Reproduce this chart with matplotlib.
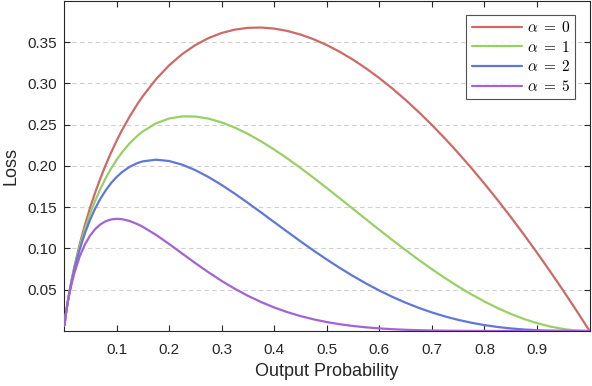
import matplotlib
matplotlib.use("Agg")
import matplotlib.pyplot as plt

p = [0.001, 0.003, 0.005, 0.0075, 0.01, 0.015, 0.02, 0.03, 0.04, 0.05, 0.06, 0.07, 0.08,
     0.09, 0.1, 0.11, 0.125, 0.14, 0.15, 0.175, 0.2, 0.225, 0.25, 0.275, 0.3, 0.325, 0.35,
     0.375, 0.4, 0.425, 0.45, 0.475, 0.5, 0.525, 0.55, 0.575, 0.6, 0.625, 0.65, 0.675, 0.7,
     0.725, 0.75, 0.775, 0.8, 0.825, 0.85, 0.875, 0.9, 0.925, 0.95, 0.965, 0.98, 0.99, 1.0]
loss_a0 = [0.006908, 0.017427, 0.026492, 0.036696, 0.046052, 0.062996, 0.078240, 0.105197,
           0.128755, 0.149787, 0.168805, 0.186148, 0.202058, 0.216715, 0.230259, 0.242800,
           0.259930, 0.275256, 0.284568, 0.305020, 0.321888, 0.335622, 0.346574, 0.355021,
           0.361192, 0.365277, 0.367438, 0.367811, 0.366516, 0.363658, 0.359329, 0.353609,
           0.346574, 0.338287, 0.328810, 0.318196, 0.306495, 0.293752, 0.280009, 0.265304,
           0.249672, 0.233148, 0.215762, 0.197541, 0.178515, 0.158707, 0.138141, 0.116840,
           0.094825, 0.072115, 0.048728, 0.034380, 0.019799, 0.009950, 0.0]
loss_a1 = [0.006901, 0.017375, 0.026360, 0.036421, 0.045591, 0.062051, 0.076675, 0.102041,
           0.123605, 0.142297, 0.158676, 0.173118, 0.185894, 0.197211, 0.207233, 0.216092,
           0.227439, 0.236720, 0.241883, 0.251642, 0.257510, 0.260107, 0.259930, 0.257390,
           0.252834, 0.246562, 0.238835, 0.229882, 0.219910, 0.209103, 0.197631, 0.185645,
           0.173287, 0.160686, 0.147965, 0.135233, 0.122598, 0.110157, 0.098003, 0.086224,
           0.074902, 0.064116, 0.053940, 0.044447, 0.035703, 0.027774, 0.020721, 0.014605,
           0.009482, 0.005409, 0.002436, 0.001203, 0.000396, 0.000100, 0.0]
loss_a2 = [0.006894, 0.017323, 0.026228, 0.036148, 0.045135, 0.061120, 0.075142, 0.098980,
           0.118661, 0.135183, 0.149155, 0.161000, 0.171022, 0.179462, 0.186509, 0.192322,
           0.199009, 0.203579, 0.205601, 0.207604, 0.206008, 0.201583, 0.194948, 0.186607,
           0.176984, 0.166429, 0.155243, 0.143676, 0.131946, 0.120234, 0.108697, 0.097464,
           0.086643, 0.076326, 0.066584, 0.057474, 0.049039, 0.041309, 0.034301, 0.028023,
           0.022470, 0.017632, 0.013485, 0.010001, 0.007141, 0.004860, 0.003108, 0.001826,
           0.000948, 0.000406, 0.000122, 0.000042, 0.000008, 0.000001, 0.0]
loss_a5 = [0.006873, 0.017167, 0.025836, 0.035340, 0.043795, 0.058411, 0.070723, 0.090336,
           0.104983, 0.115902, 0.123886, 0.129501, 0.133173, 0.135237, 0.135966, 0.135581,
           0.133321, 0.129488, 0.126264, 0.116574, 0.105476, 0.093835, 0.082243, 0.071112,
           0.060706, 0.051185, 0.042633, 0.035077, 0.028500, 0.022858, 0.018084, 0.014103,
           0.010830, 0.008180, 0.006068, 0.004412, 0.003139, 0.002178, 0.001471, 0.000962,
           0.000607, 0.000367, 0.000211, 0.000114, 0.000057, 0.000026, 0.000010, 0.000004,
           0.000001, 0.0, 0.0, 0.0, 0.0, 0.0, 0.0]
labels = [r"$\alpha\;=\;0$", r"$\alpha\;=\;1$", r"$\alpha\;=\;2$", r"$\alpha\;=\;5$"]
colors = ["#CD6A66", "#99D066", "#5F78D8", "#A463D4"]
xticks = [0.1, 0.2, 0.3, 0.4, 0.5, 0.6, 0.7, 0.8, 0.9]
yticks = [0.05, 0.10, 0.15, 0.20, 0.25, 0.30, 0.35]

plt.rcParams["font.family"] = ["Liberation Sans", "DejaVu Sans"]
plt.rcParams["mathtext.fontset"] = "cm"

fig = plt.figure(figsize=(5.92, 3.86), dpi=100)
ax = fig.add_axes([0.108, 0.1425, 0.888, 0.855])

for y, lab, c in zip([loss_a0, loss_a1, loss_a2, loss_a5], labels, colors):
    ax.plot(p, y, color=c, lw=1.6, label=lab, solid_capstyle="round",
            solid_joinstyle="round", zorder=3)

ax.set_xlim(0, 1)
ax.set_ylim(0, 0.4)
ax.set_xticks(xticks)
ax.set_xticklabels([f"{v:.1f}" for v in xticks])
ax.set_yticks(yticks)
ax.set_yticklabels([f"{v:.2f}" for v in yticks])
ax.tick_params(direction="in", top=True, right=True, length=4, width=0.8,
               colors="#262626", labelsize=11)
ax.tick_params(axis="x", pad=9)
ax.tick_params(axis="y", pad=5)
ax.yaxis.grid(True, linestyle=(0, (4, 3)), color="#d0d0d0", lw=0.8, zorder=0)
for s in ax.spines.values():
    s.set_color("#262626")
    s.set_linewidth(0.8)
ax.set_xlabel("Output Probability", fontsize=13, color="#262626", labelpad=4)
ax.set_ylabel("Loss", fontsize=13, color="#262626", labelpad=6)

leg = ax.legend(loc="upper right", fontsize=11, frameon=True, fancybox=False,
                edgecolor="#262626", handlelength=3.3, handletextpad=0.3,
                labelspacing=0.3, borderpad=0.35, borderaxespad=0,
                bbox_to_anchor=(0.973, 0.958))
leg.get_frame().set_linewidth(0.8)

fig.savefig("out.png", dpi=100)
